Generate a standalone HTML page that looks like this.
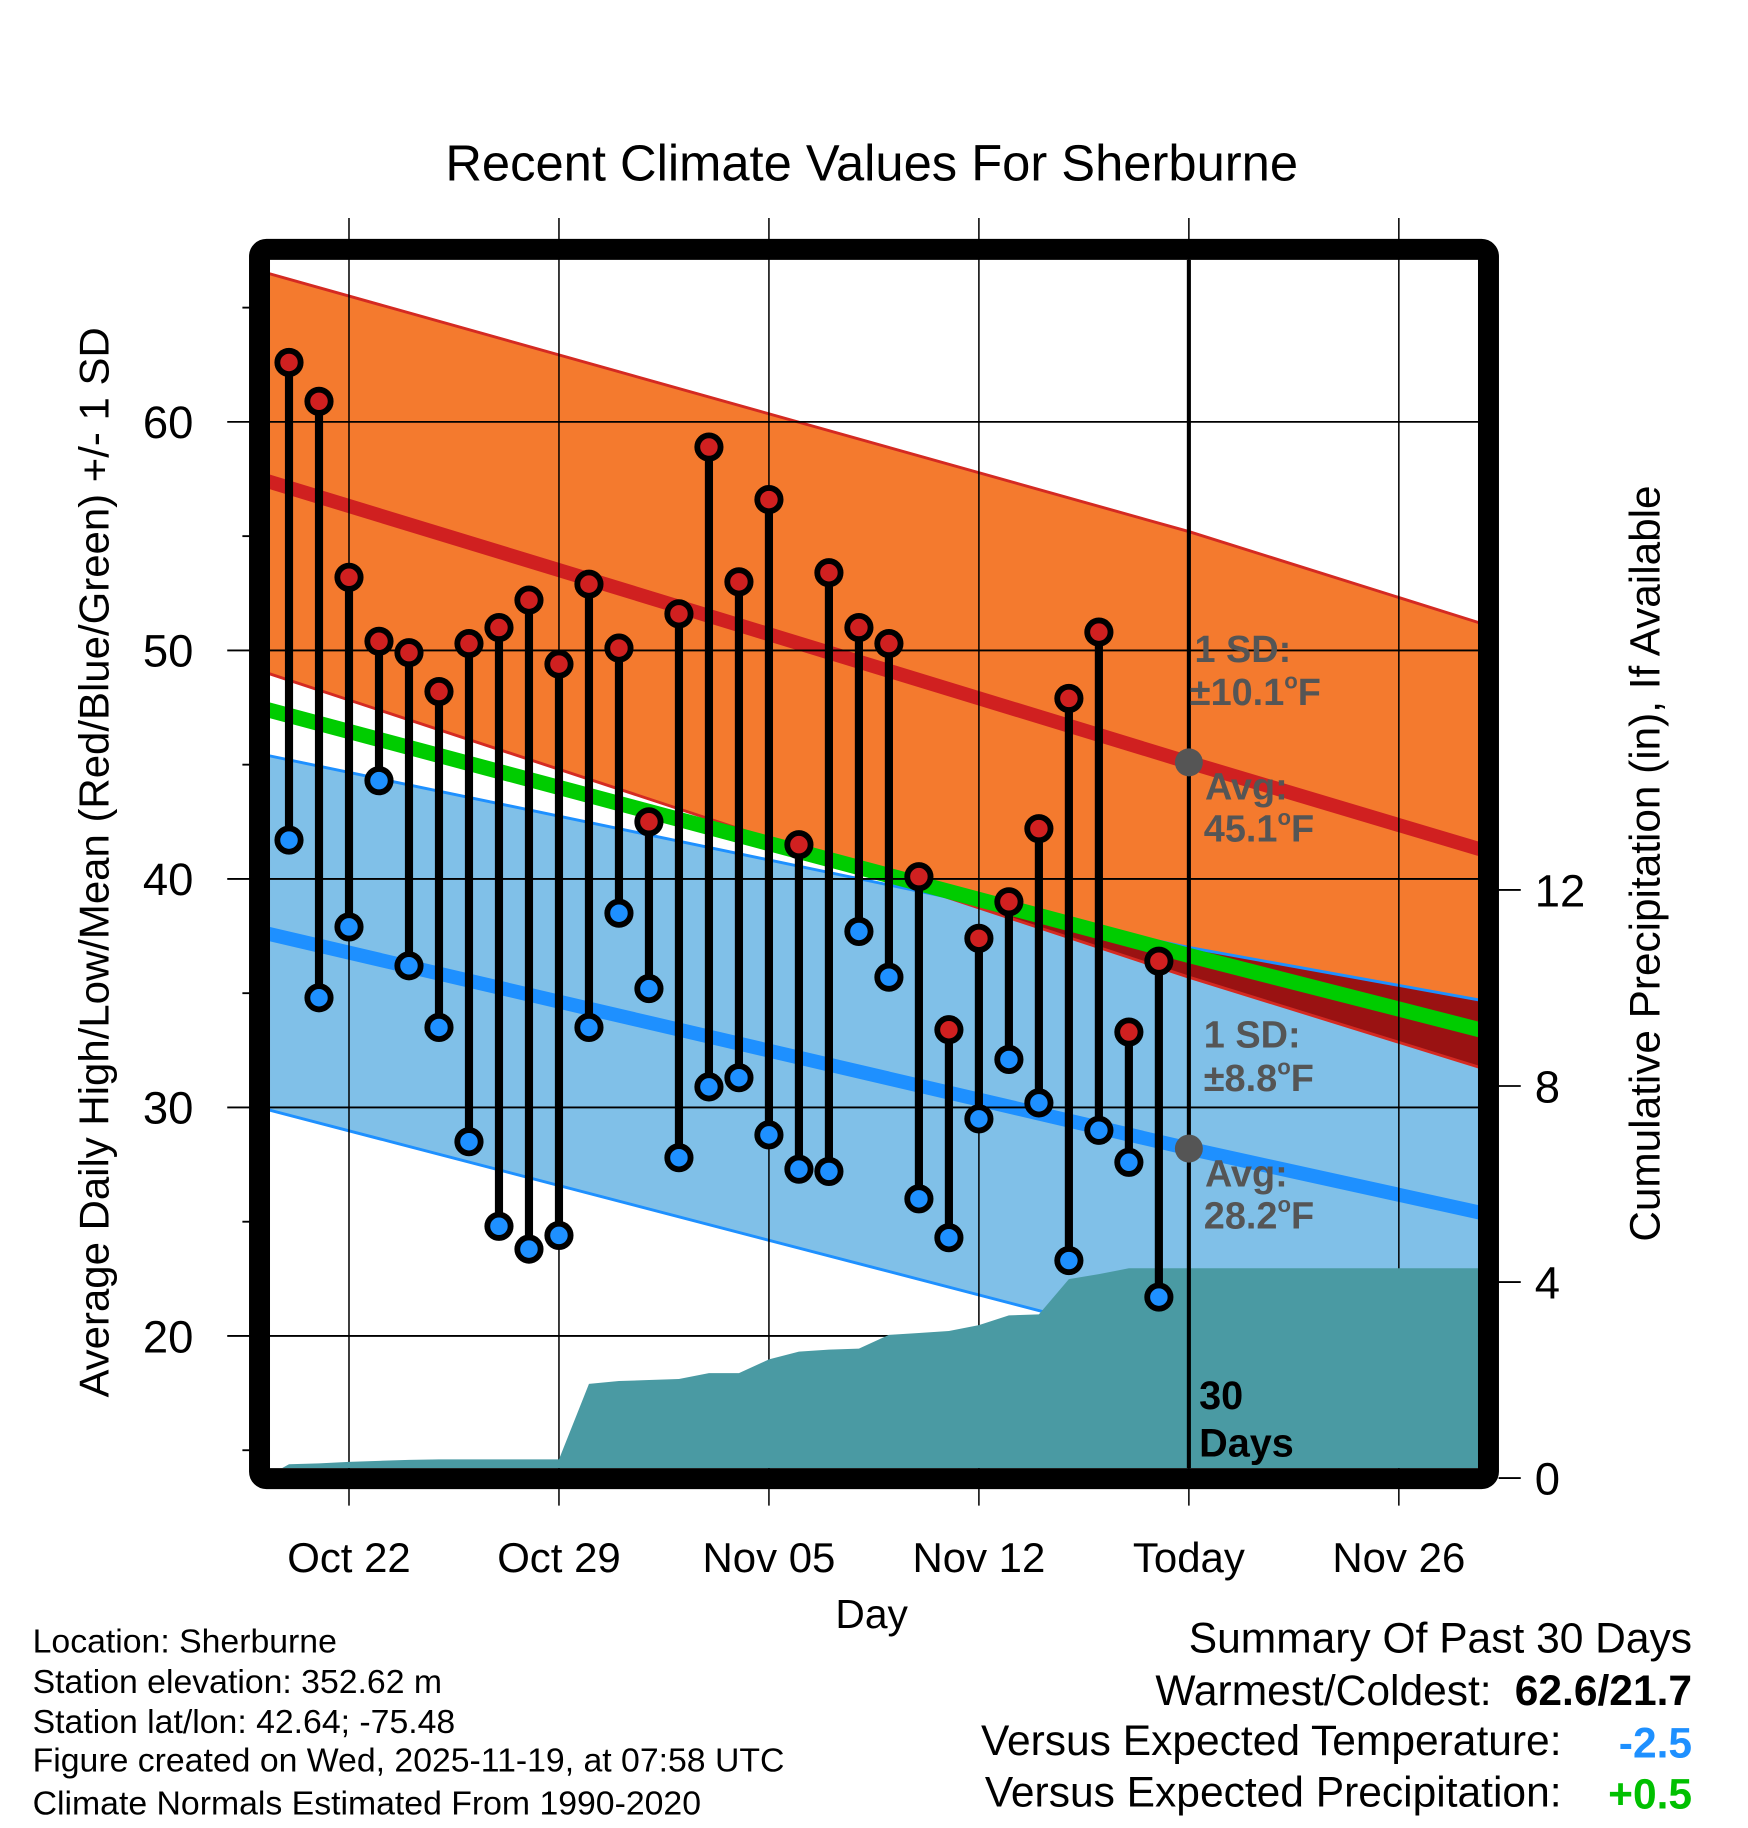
<!DOCTYPE html>
<html><head><meta charset="utf-8"><style>
html,body{margin:0;padding:0;background:#fff}
svg{display:block}
text{font-family:"Liberation Sans",Arial,sans-serif}
</style></head><body>
<svg id="chart" xmlns="http://www.w3.org/2000/svg" width="1748" height="1828" viewBox="0 0 1500 1568.6">
<defs>
<clipPath id="plotClip"><rect x="231.7" y="223" width="1036.6" height="1036.8"/></clipPath>
<clipPath id="orangeClip"><polygon id="orangeClipPoly" points=""/></clipPath>
</defs>
<rect width="1500" height="1568.6" fill="#fff"/>
<text x="748" y="155" font-size="43.5" text-anchor="middle">Recent Climate Values For Sherburne</text>
<g id="bands" clip-path="url(#plotClip)"></g>
<g id="grid"></g>
<g id="precip" clip-path="url(#plotClip)"></g>
<g id="marks"></g>
<rect x="222.7" y="214" width="1054.6" height="1054.8" rx="6" fill="none" stroke="#000" stroke-width="18"/>
<g id="axes"></g>
<text transform="translate(93,740) rotate(-90)" font-size="36" text-anchor="middle">Average Daily High/Low/Mean (Red/Blue/Green) +/- 1 SD</text>
<text transform="translate(1424,741) rotate(-90)" font-size="36.3" text-anchor="middle">Cumulative Precipitation (in), If Available</text>
<text x="748" y="1397" font-size="35" text-anchor="middle">Day</text>
<g font-size="32.5" font-weight="bold" fill="#555">
<text x="1025" y="568">1 SD:</text>
<text x="1021" y="605">±10.1<tspan font-size="19" dy="-14">o</tspan><tspan dy="14">F</tspan></text>
<text x="1034" y="686">Avg:</text>
<text x="1033" y="722">45.1<tspan font-size="19" dy="-14">o</tspan><tspan dy="14">F</tspan></text>
<text x="1033" y="899">1 SD:</text>
<text x="1033" y="936">±8.8<tspan font-size="19" dy="-14">o</tspan><tspan dy="14">F</tspan></text>
<text x="1034" y="1018">Avg:</text>
<text x="1033" y="1054">28.2<tspan font-size="19" dy="-14">o</tspan><tspan dy="14">F</tspan></text>
</g>
<text x="1029" y="1209" font-size="34" font-weight="bold">30</text>
<text x="1029" y="1250" font-size="34" font-weight="bold">Days</text>
<g font-size="29">
<text x="28" y="1418">Location: Sherburne</text>
<text x="28" y="1453">Station elevation: 352.62 m</text>
<text x="28" y="1487">Station lat/lon: 42.64; -75.48</text>
<text x="28" y="1520">Figure created on Wed, 2025-11-19, at 07:58 UTC</text>
<text x="28" y="1557">Climate Normals Estimated From 1990-2020</text>
</g>
<g font-size="36.5">
<text x="1452" y="1418" text-anchor="end">Summary Of Past 30 Days</text>
<text x="1280" y="1463" text-anchor="end">Warmest/Coldest:</text>
<text x="1452" y="1463" text-anchor="end" font-weight="bold">62.6/21.7</text>
<text x="1340" y="1506" text-anchor="end">Versus Expected Temperature:</text>
<text x="1452" y="1508" text-anchor="end" font-weight="bold" fill="#1e90ff">-2.5</text>
<text x="1340" y="1550" text-anchor="end">Versus Expected Precipitation:</text>
<text x="1452" y="1552" text-anchor="end" font-weight="bold" fill="#00c000">+0.5</text>
</g>
</svg>
<script>
// ---- data ----
const dayLabels = ["Oct 20","Oct 21","Oct 22","Oct 23","Oct 24","Oct 25","Oct 26","Oct 27","Oct 28","Oct 29","Oct 30","Oct 31","Nov 01","Nov 02","Nov 03","Nov 04","Nov 05","Nov 06","Nov 07","Nov 08","Nov 09","Nov 10","Nov 11","Nov 12","Nov 13","Nov 14","Nov 15","Nov 16","Nov 17","Nov 18"];
const highs = [62.6,60.9,53.2,50.4,49.9,48.2,50.3,51.0,52.2,49.4,52.9,50.1,42.5,51.6,58.9,53.0,56.6,41.5,53.4,51.0,50.3,40.1,33.4,37.4,39.0,42.2,47.9,50.8,33.3,36.4];
const lows = [41.7,34.8,37.9,44.3,36.2,33.5,28.5,24.8,23.8,24.4,33.5,38.5,35.2,27.8,30.9,31.3,28.8,27.3,27.2,37.7,35.7,26.0,24.3,29.5,32.1,30.2,23.3,29.0,27.6,21.7];
const precip = [0.28,0.30,0.33,0.35,0.37,0.38,0.38,0.38,0.38,0.38,1.92,1.98,2.00,2.02,2.14,2.14,2.42,2.58,2.62,2.64,2.92,2.96,3.00,3.12,3.32,3.34,4.06,4.16,4.28,4.28];
const normalDays = [-0.7, 30, 39.7];
const normalHigh = [57.4, 45.1, 41.3];
const normalHighUpper = [66.5, 55.2, 51.2];
const normalHighLower = [49.0, 35.7, 31.75];
const normalLow = [37.6, 28.2, 25.4];
const normalLowUpper = [45.4, 37.0, 34.7];
const normalLowLower = [29.9, 19.4, 16.1];
const normalMean = [47.4, 36.65, 33.4];
const xTickDays = [2, 9, 16, 23, 30, 37];
const xTickLabels = ["Oct 22","Oct 29","Nov 05","Nov 12","Today","Nov 26"];
const yTicks = [20, 30, 40, 50, 60];
const yMinorTicks = [15, 25, 35, 45, 55, 65];
const pTicks = [0, 4, 8, 12];
const extendDay = 39.7;

// ---- axes ----
const NS = "http://www.w3.org/2000/svg";
const X = d => 248 + 25.74 * d;
const Y = t => 362 + (60 - t) * 19.61;
const P = p => 1268.3 - 42.05 * p;
const PL = 231.7, PR = 1268.3, PT = 223, PB = 1259.8;
function mk(tag, attrs, parent) {
  const e = document.createElementNS(NS, tag);
  for (const k in attrs) e.setAttribute(k, attrs[k]);
  parent.appendChild(e); return e;
}
const bands = document.getElementById('bands');
const grid = document.getElementById('grid');
const pg = document.getElementById('precip');
const marks = document.getElementById('marks');
const axes = document.getElementById('axes');
const pts = arr => normalDays.map((d, i) => X(d) + ',' + Y(arr[i]));
function bandPts(up, lo) { return pts(up).concat(pts(lo).reverse()).join(' '); }

let e;
e = mk('polygon', {points: bandPts(normalLowUpper, normalLowLower), fill: '#80c0e8'}, bands);


e = mk('polygon', {points: bandPts(normalHighUpper, normalHighLower), fill: '#f47a2e'}, bands);


document.getElementById('orangeClipPoly').setAttribute('points', bandPts(normalHighUpper, normalHighLower));
e = mk('polygon', {points: bandPts(normalLowUpper, normalLowLower), fill: '#9a1212', 'clip-path': 'url(#orangeClip)'}, bands);


const lineDefs = [
  [normalHighUpper, '#d42a22', 2.5, 'high-upper-sd-line'],
  [normalHighLower, '#d42a22', 2.5, 'high-lower-sd-line'],
  [normalLowUpper, '#1e90ff', 2.5, 'low-upper-sd-line'],
  [normalLowLower, '#1e90ff', 2.5, 'low-lower-sd-line'],
  [normalHigh, '#d02020', 12, 'avg-high-line'],
  [normalLow, '#1e90ff', 12, 'avg-low-line'],
  [normalMean, '#00cc00', 13, 'avg-mean-line']];
lineDefs.forEach(l => {
  const ln = mk('polyline', {points: pts(l[0]).join(' '), fill: 'none', stroke: l[1], 'stroke-width': l[2]}, bands);
  
  
});

// grid
yTicks.forEach(t => {
  const g = mk('line', {x1: 195, x2: PR, y1: Y(t), y2: Y(t), stroke: '#000', 'stroke-width': 1.6}, grid);
  
  
  const lb = mk('text', {x: 166, y: Y(t) + 14, 'font-size': 39, 'text-anchor': 'end'}, axes);
  lb.textContent = t;
  
  
});
yMinorTicks.forEach(t => {
  const m = mk('line', {x1: 208, x2: 215, y1: Y(t), y2: Y(t), stroke: '#000', 'stroke-width': 1.6}, axes);
  
  
});
xTickDays.forEach((d, i) => {
  const g = mk('line', {x1: X(d), x2: X(d), y1: 187, y2: 1292, stroke: '#000', 'stroke-width': 1.3}, grid);
  
  
  const lb = mk('text', {x: X(d), y: 1349, 'font-size': 36, 'text-anchor': 'middle'}, axes);
  lb.textContent = xTickLabels[i];
  
  
});
pTicks.forEach(p => {
  const t = mk('line', {x1: 1286, x2: 1305, y1: P(p), y2: P(p), stroke: '#000', 'stroke-width': 1.6}, axes);
  
  
  const lb = mk('text', {x: 1317, y: P(p) + 14, 'font-size': 39}, axes);
  lb.textContent = p;
  
  
});

// precip area
let pp = [(X(0) - 6) + ',' + PB];
precip.forEach((v, i) => pp.push(X(i) + ',' + P(v)));
pp.push(X(extendDay) + ',' + P(precip[precip.length - 1]));
pp.push(X(extendDay) + ',' + PB);
e = mk('polygon', {points: pp.join(' '), fill: '#4a9aa3'}, pg);



// today line
e = mk('line', {x1: X(30), x2: X(30), y1: 223, y2: PB, stroke: '#000', 'stroke-width': 3.5}, marks);


[normalHigh[1], normalLow[1]].forEach(v => {
  const c = mk('circle', {cx: X(30), cy: Y(v), r: 12, fill: '#555'}, marks);
  
  
});

// daily marks
highs.forEach((h, i) => {
  const x = X(i);
  const st = mk('line', {x1: x, x2: x, y1: Y(h), y2: Y(lows[i]), stroke: '#000', 'stroke-width': 7}, marks);
  
  
  const ch = mk('circle', {cx: x, cy: Y(h), r: 10, fill: '#d02020', stroke: '#000', 'stroke-width': 5}, marks);
  
  
  const cl = mk('circle', {cx: x, cy: Y(lows[i]), r: 10, fill: '#1e90ff', stroke: '#000', 'stroke-width': 5}, marks);
  
  
});
</script>
</body></html>
